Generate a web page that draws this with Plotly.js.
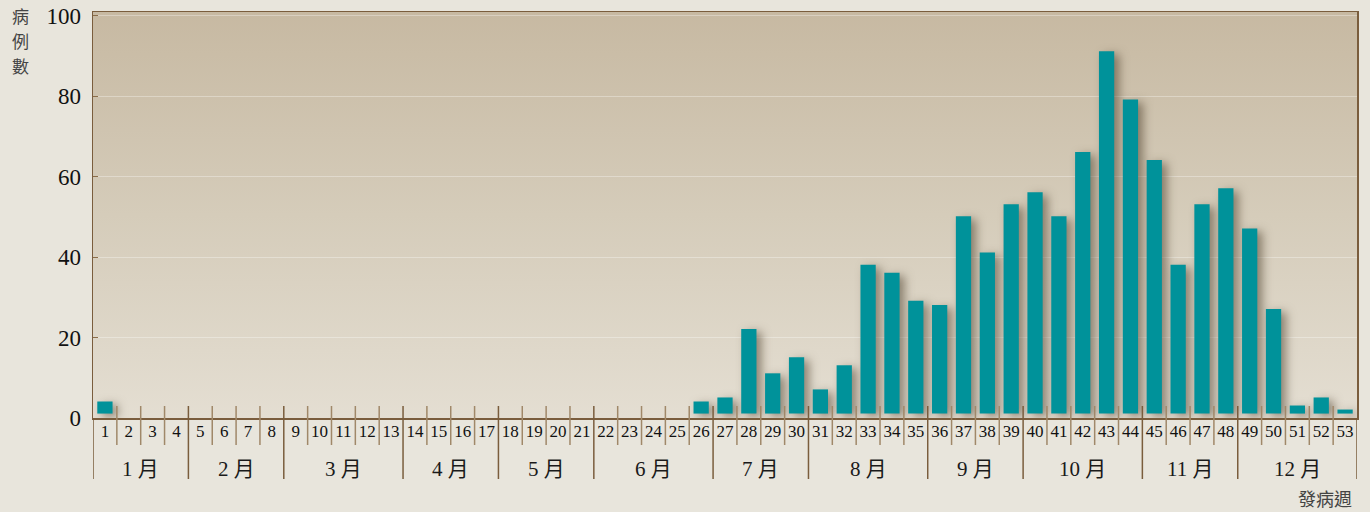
<!DOCTYPE html>
<html><head><meta charset="utf-8">
<script src="https://cdn.plot.ly/plotly-3.0.1.min.js"></script>
<style>
html,body{margin:0;padding:0;background:#e8e5dc;}
#wrap{position:relative;width:1370px;height:512px;overflow:hidden;}
#bg{position:absolute;left:93px;top:12px;width:1264px;height:406px;background:linear-gradient(to bottom,#c7b9a2 0%,#d5ccba 50%,#e4ded2 100%);}
#chart{position:absolute;left:0;top:0;width:1370px;height:512px;}
.js-plotly-plot .barlayer .point path{filter:drop-shadow(5px 3px 5px rgba(60,45,25,0.5));}
</style></head><body>
<div id="wrap"><div id="bg"></div><div id="chart"></div></div>
<script>
// ---- data ----
const weeks = Array.from({length:53},(_,i)=>i+1);
const weekLabels = weeks.map(String);
const cases = [3,0,0,0,0,0,0,0,0,0,0,0,0,0,0,0,0,0,0,0,0,0,0,0,0,3,4,21,10,14,6,12,37,35,28,27,49,40,52,55,49,65,90,78,63,37,52,56,46,26,2,4,1];
const monthNames = ['1 月','2 月','3 月','4 月','5 月','6 月','7 月','8 月','9 月','10 月','11 月','12 月'];
const weeksPerMonth = [4,4,5,4,4,5,4,5,4,5,4,5];
const yTicks = [0,20,40,60,80,100];
const yTitleChars = ['病','例','數'];
const xTitle = '發病週';

// ---- styling helpers ----
const plotH = 406, plotW = 1264;
const py = px => px/plotH;            // pixel offset -> paper units (y)
const divTop = py(12), weekBottom = -py(27), monthBottom = -py(61);
const serif = 'Liberation Serif, Noto Sans CJK TC, serif';
const cjk = 'Noto Sans CJK TC, sans-serif';

const shapes = [];
const annotations = [];
const bounds = [0];
weeksPerMonth.forEach(n => bounds.push(bounds[bounds.length-1]+n));
const monthSet = new Set(bounds);
for (let k=1;k<53;k++){
  if (monthSet.has(k)) continue;
  shapes.push({type:'line',xref:'x',yref:'paper',x0:k+0.5,x1:k+0.5,y0:weekBottom,y1:divTop,
    line:{color:'#a08869',width:1.5},layer:'above'});
}
bounds.forEach(b=>{
  shapes.push({type:'line',xref:'x',yref:'paper',x0:b+0.5,x1:b+0.5,y0:monthBottom,y1:(b===0||b===53)?0:divTop,
    line:{color:'#7a5d3d',width:1.5},layer:'above'});
});
monthNames.forEach((m,i)=>{
  const c = (bounds[i]+bounds[i+1])/2 + 0.5;
  annotations.push({xref:'x',yref:'paper',x:c,y:-py(51),text:m,showarrow:false,
    font:{family:serif,size:21,color:'#1a1a1a'},xanchor:'center',yanchor:'middle'});
});
yTitleChars.forEach((ch,i)=>{
  annotations.push({xref:'paper',yref:'paper',x:-73/plotW,y:1+py(12-16-24.8*i),text:ch,showarrow:false,
    font:{family:cjk,size:17,color:'#444'},xanchor:'center',yanchor:'middle',borderpad:0});
});
annotations.push({xref:'paper',yref:'paper',x:1+(-32/plotW),y:-py(80),text:xTitle,showarrow:false,
  font:{family:cjk,size:18,color:'#444'},xanchor:'center',yanchor:'middle',borderpad:0});

const trace = {
  type:'bar', x:weeks, y:cases, base:1.1, width:0.64,
  marker:{color:'#00929a',line:{width:0}}, hoverinfo:'x+y'
};

const layout = {
  width:1370, height:512,
  margin:{l:93,r:13,t:12,b:94,pad:0},
  paper_bgcolor:'rgba(0,0,0,0)', plot_bgcolor:'rgba(0,0,0,0)',
  showlegend:false,
  xaxis:{range:[0.5,53.5],tickvals:weeks,ticktext:weekLabels,tickangle:0,
    tickfont:{family:serif,size:17,color:'#111'},ticks:'',showgrid:false,zeroline:false,
    showline:true,linecolor:'#7a5d3d',linewidth:1.5,mirror:true,ticklabelstandoff:-3,fixedrange:true},
  yaxis:{range:[0,plotH/4.025],tickvals:yTicks,ticktext:yTicks.map(String),
    tickfont:{family:serif,size:23,color:'#111'},ticks:'inside',ticklen:5,tickcolor:'#8a6d4a',
    showgrid:true,gridcolor:'rgba(255,255,255,0.32)',gridwidth:1,zeroline:false,
    showline:true,linecolor:'#7a5d3d',linewidth:1.5,mirror:true,ticklabelstandoff:6,fixedrange:true},
  shapes:shapes, annotations:annotations
};
Plotly.newPlot('chart',[trace],layout,{displayModeBar:false,staticPlot:true});
</script>
</body></html>
